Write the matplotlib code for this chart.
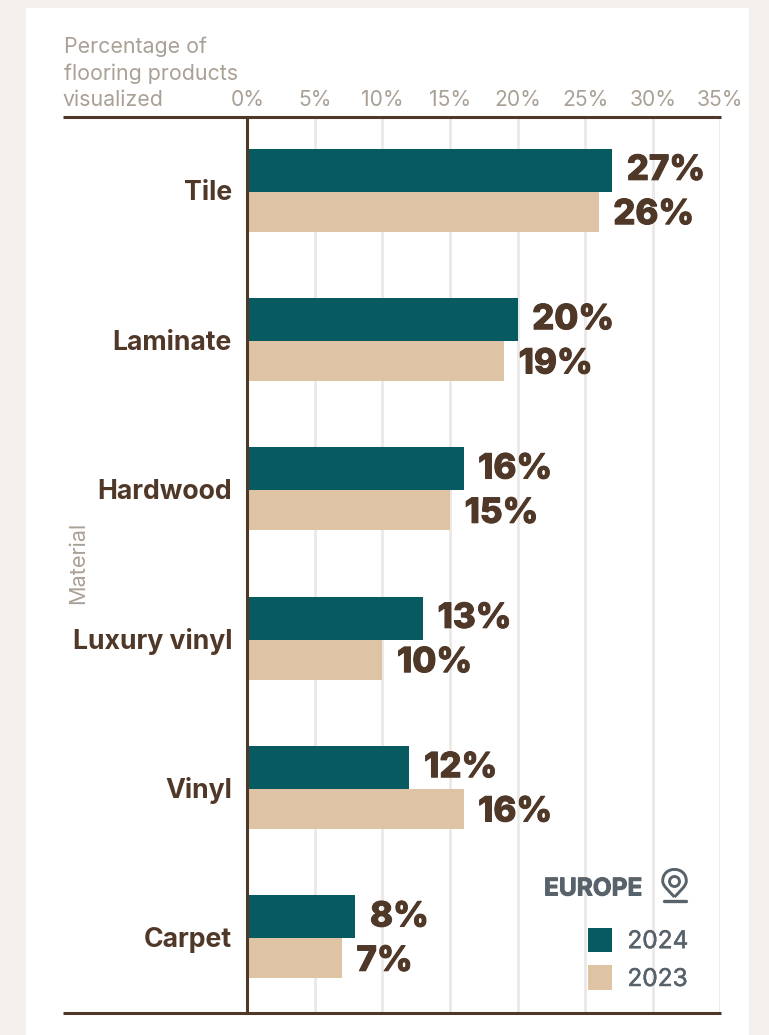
import matplotlib
matplotlib.use('Agg')
import matplotlib.pyplot as plt
import matplotlib.patheffects as pe
from matplotlib.patches import Circle, PathPatch, Rectangle
from matplotlib.path import Path
from matplotlib.transforms import ScaledTranslation

# --- Data ---
materials = ['Tile', 'Laminate', 'Hardwood', 'Luxury vinyl', 'Vinyl', 'Carpet']
values_2024 = [27, 20, 16, 13, 12, 8]
values_2023 = [26, 19, 15, 10, 16, 7]
tick_values = [0, 5, 10, 15, 20, 25, 30, 35]
tick_labels = ['0%', '5%', '10%', '15%', '20%', '25%', '30%', '35%']

# --- Colours ---
TEAL = '#065a60'
TAN = '#dec4a4'
BROWN = '#503828'
MUTED = '#aaa095'
SLATE = '#58626b'
GRID = '#ebe9e7'
PAGE = '#f3f0ed'

W, H = 769, 1035
plt.rcParams['font.family'] = ['Inter', 'DejaVu Sans']
fig = plt.figure(figsize=(W / 100, H / 100), dpi=100, facecolor=PAGE)


def fx(px):
    return px / W


def fy(py):
    return 1 - py / H


# white panel
fig.add_artist(Rectangle((fx(26), 0), fx(723), fy(8), transform=fig.transFigure,
                         facecolor='white', edgecolor='none', zorder=-5))

ax = fig.add_axes([fx(247.3), fy(1013.3), fx(473), (1013.3 - 117.3) / H])
ax.patch.set_alpha(0)
ax.set_xlim(0, 35)
ax.set_ylim(5.5, -0.5)
for s in ax.spines.values():
    s.set_visible(False)

ax.set_axisbelow(True)
ax.xaxis.tick_top()
ax.set_xticks(tick_values)
ax.set_xticklabels(tick_labels, fontsize=15.2, color=MUTED)
ax.tick_params(axis='x', length=0, pad=5)
ax.grid(axis='x', color=GRID, linewidth=2)

ypos = list(range(len(materials)))
ax.barh([y - 0.146 for y in ypos], values_2024, height=0.288, color=TEAL, label='2024', zorder=3)
ax.barh([y + 0.132 for y in ypos], values_2023, height=0.268, color=TAN, label='2023', zorder=3)

ax.set_yticks(ypos)
ax.set_yticklabels(materials, fontsize=19.2, fontweight='bold', color=BROWN)
ax.tick_params(axis='y', length=0, pad=11)
shift_up = ScaledTranslation(0, 1.5 / 100, fig.dpi_scale_trans)
for lab in ax.get_yticklabels():
    lab.set_transform(lab.get_transform() + shift_up)

bold = [pe.withStroke(linewidth=0.7, foreground=BROWN)]
for y, a, b in zip(ypos, values_2024, values_2023):
    ax.annotate(f'{a}%', (a, y - 0.146), xytext=(10.5, -0.5), textcoords='offset points',
                va='center', ha='left', fontsize=25, fontweight='heavy', color=BROWN,
                zorder=5, path_effects=bold)
    ax.annotate(f'{b}%', (b, y + 0.132), xytext=(10.5, -2.5), textcoords='offset points',
                va='center', ha='left', fontsize=25, fontweight='heavy', color=BROWN,
                zorder=5, path_effects=bold)

# frame lines
ax.axvline(0, color=BROWN, linewidth=2.2, zorder=6, clip_on=False)
for py in (117.3, 1013.3):
    fig.add_artist(plt.Line2D([fx(63), fx(721)], [fy(py), fy(py)], color=BROWN,
                              linewidth=2.2, solid_capstyle='butt', zorder=10))

# axis titles
fig.text(fx(63.5), fy(47), 'Percentage of', fontsize=15.4, color=MUTED, va='center')
fig.text(fx(63.5), fy(74), 'flooring products', fontsize=15.4, color=MUTED, va='center')
fig.text(fx(62.5), fy(100), 'visualized', fontsize=15.4, color=MUTED, va='center')
fig.text(fx(78), fy(563), 'Material', fontsize=15.6, color=MUTED, rotation=90, va='center', ha='center')

# legend
fig.text(fx(544), fy(889), 'EUROPE', fontsize=17.6, fontweight='bold', color=SLATE, va='center',
         path_effects=[pe.withStroke(linewidth=0.7, foreground=SLATE)])
handles, labels = ax.get_legend_handles_labels()
leg = ax.legend(handles, labels, loc='lower left', bbox_to_anchor=(fx(588), fy(991)),
                bbox_transform=fig.transFigure, frameon=False, fontsize=17.6,
                handlelength=0.98, handleheight=1.18, handletextpad=0.63,
                labelspacing=0.5, borderpad=0, borderaxespad=0, labelcolor=SLATE)
leg.set_zorder(8)
for txt in leg.get_texts():
    txt.set_path_effects([pe.withStroke(linewidth=0.35, foreground=SLATE)])

# location pin icon, in pixel space
icon = fig.add_axes([0, 0, 1, 1], facecolor='none')
icon.set_xlim(0, W)
icon.set_ylim(H, 0)
icon.axis('off')
pin = Path([(674.5, 897), (669, 891), (662.7, 886), (662.7, 881),
            (662.7, 865.5), (686.3, 865.5), (686.3, 881),
            (686.3, 886), (680, 891), (674.5, 897)],
           [Path.MOVETO, Path.CURVE4, Path.CURVE4, Path.CURVE4, Path.CURVE4,
            Path.CURVE4, Path.CURVE4, Path.CURVE4, Path.CURVE4, Path.CURVE4])
icon.add_patch(PathPatch(pin, facecolor='none', edgecolor=SLATE, linewidth=2.1))
icon.add_patch(Circle((674.5, 881.5), 5, facecolor='none', edgecolor=SLATE, linewidth=2.1))
icon.plot([664, 686], [900.5, 900.5], color=SLATE, linewidth=2.4, solid_capstyle='round')

fig.savefig('out.png', dpi=100, facecolor=PAGE)
